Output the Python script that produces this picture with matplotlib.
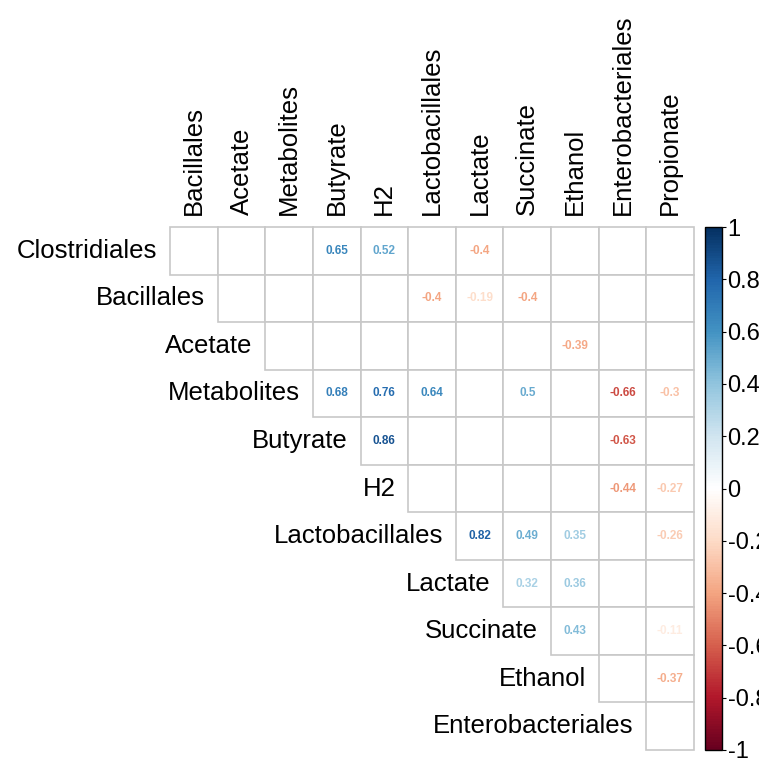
import numpy as np
import matplotlib.pyplot as plt
from matplotlib.colors import LinearSegmentedColormap
from matplotlib.patches import Rectangle
from matplotlib.colorbar import ColorbarBase
from matplotlib.colors import Normalize

plt.rcParams['font.family'] = ['Liberation Sans', 'DejaVu Sans']

row_names = ["Clostridiales", "Bacillales", "Acetate", "Metabolites", "Butyrate", "H2",
             "Lactobacillales", "Lactate", "Succinate", "Ethanol", "Enterobacteriales"]
col_names = ["Bacillales", "Acetate", "Metabolites", "Butyrate", "H2", "Lactobacillales",
             "Lactate", "Succinate", "Ethanol", "Enterobacteriales", "Propionate"]

# significant correlations only: (row, column, r)
sig_rows = [0, 0, 0,
            1, 1, 1,
            2,
            3, 3, 3, 3, 3, 3,
            4, 4,
            5, 5,
            6, 6, 6, 6,
            7, 7,
            8, 8,
            9]
sig_cols = [3, 4, 6,
            5, 6, 7,
            8,
            3, 4, 5, 7, 9, 10,
            4, 9,
            9, 10,
            6, 7, 8, 10,
            7, 8,
            8, 10,
            10]
sig_vals = [0.65, 0.52, -0.4,
            -0.4, -0.19, -0.4,
            -0.39,
            0.68, 0.76, 0.64, 0.5, -0.66, -0.3,
            0.86, -0.63,
            -0.44, -0.27,
            0.82, 0.49, 0.35, -0.26,
            0.32, 0.36,
            0.43, -0.11,
            -0.37]

cbar_ticks = [-1, -0.8, -0.6, -0.4, -0.2, 0, 0.2, 0.4, 0.6, 0.8, 1]

rdbu = ["#67001F", "#B2182B", "#D6604D", "#F4A582", "#FDDBC7", "#FFFFFF",
        "#D1E5F0", "#92C5DE", "#4393C3", "#2166AC", "#053061"]
cmap = LinearSegmentedColormap.from_list("corr", rdbu, N=200)
norm = Normalize(-1, 1)

W, H = 759, 767
fig = plt.figure(figsize=(W / 100, H / 100), dpi=100)

gx0, gx1, gy0, gy1 = 170, 694, 227, 750
ax = fig.add_axes([gx0 / W, 1 - gy1 / H, (gx1 - gx0) / W, (gy1 - gy0) / H])
n = len(col_names)
ax.set_xlim(0, n)
ax.set_ylim(n, 0)
ax.axis("off")

grid_col = "#C8C8C8"
for i in range(n):
    for j in range(i, n):
        ax.add_patch(Rectangle((j, i), 1, 1, facecolor="white", edgecolor=grid_col,
                               linewidth=1.2, clip_on=False))

for r, c, v in zip(sig_rows, sig_cols, sig_vals):
    ax.text(c + 0.5, r + 0.5, f"{v:g}", ha="center", va="center",
            fontsize=8.5, fontweight="bold", color=cmap(norm(v)))

# row labels on the diagonal, column labels across the top
lab_size = 18.5
for i, name in enumerate(row_names):
    ax.text(i - 0.27, i + 0.5, name, ha="right", va="center", fontsize=lab_size,
            color="black")
for j, name in enumerate(col_names):
    ax.text(j + 0.5, -0.25, name, ha="center", va="bottom", rotation=90,
            fontsize=lab_size, color="black")

cax = fig.add_axes([705 / W, 1 - gy1 / H, 17 / W, (gy1 - gy0) / H])
cb = ColorbarBase(cax, cmap=cmap, norm=norm, orientation="vertical")
cb.set_ticks(cbar_ticks)
cb.set_ticklabels([f"{t:g}" for t in cbar_ticks])
cb.outline.set_linewidth(1.0)
cax.tick_params(labelsize=17, length=3, width=0.8, pad=1)

fig.savefig("out.png", dpi=100)
